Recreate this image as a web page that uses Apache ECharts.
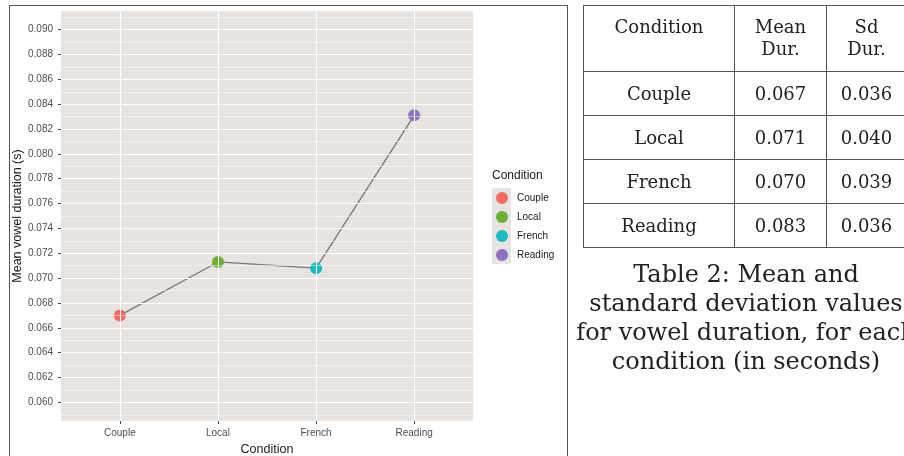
<!DOCTYPE html>
<html>
<head>
<meta charset="utf-8">
<script src="https://cdn.jsdelivr.net/npm/echarts@6/dist/echarts.min.js"></script>
<style>
  html, body { margin: 0; padding: 0; background: #fff; width: 904px; height: 456px; overflow: hidden; }
  #frame { position: absolute; left: 9px; top: 5px; width: 559px; height: 470px; border: 1.5px solid #555; box-sizing: border-box; }
  #chart { position: absolute; left: 0; top: 0; width: 904px; height: 456px; }
  #tbl { position: absolute; left: 583px; top: 5px; width: 323px; border-collapse: collapse; table-layout: fixed; font-family: "DejaVu Serif", serif; color: #222; font-size: 18px; }
  #tbl td { border: 1px solid #555; text-align: center; padding: 0; line-height: 22px; }
  #caption { position: absolute; left: 544px; top: 260px; width: 404px; text-align: center; font-family: "DejaVu Serif", serif; font-size: 24px; line-height: 29px; color: #222; white-space: nowrap; }
</style>
</head>
<body>
<div id="frame"></div>
<div id="chart"></div>
<table id="tbl"><colgroup><col style="width:151px"><col style="width:92px"><col style="width:80px"></colgroup><tbody id="tb"></tbody></table>
<div id="caption">Table 2: Mean and<br>standard deviation values<br>for vowel duration, for each<br>condition (in seconds)</div>
<script>
// ---- data ----
var categories = ['Couple', 'Local', 'French', 'Reading'];
var meanDuration = [0.0670, 0.0713, 0.0708, 0.0831];
var pointColors = ['#F06A63', '#6BAF35', '#1CBBBF', '#8D72C0'];
var yMajorTicks = [0.060, 0.062, 0.064, 0.066, 0.068, 0.070, 0.072, 0.074, 0.076, 0.078, 0.080, 0.082, 0.084, 0.086, 0.088, 0.090];
var yMinorTicks = [0.059, 0.061, 0.063, 0.065, 0.067, 0.069, 0.071, 0.073, 0.075, 0.077, 0.079, 0.081, 0.083, 0.085, 0.087, 0.089, 0.091];
var tableHeader = ['Condition', 'Mean<br>Dur.', 'Sd<br>Dur.'];
var tableMean = ['0.067', '0.071', '0.070', '0.083'];
var tableSd = ['0.036', '0.040', '0.039', '0.036'];

// ---- table ----
var tb = document.getElementById('tb');
var html = '<tr style="height:66px">';
tableHeader.forEach(function (h) { html += '<td style="vertical-align:top;padding-top:10px">' + h + '</td>'; });
html += '</tr>';
for (var r = 0; r < categories.length; r++) {
  html += '<tr style="height:44px"><td>' + categories[r] + '</td><td>' + tableMean[r] + '</td><td>' + tableSd[r] + '</td></tr>';
}
tb.innerHTML = html;

// ---- chart ----
var xPos = categories.map(function (c, i) { return i; });
var xMin = -0.6, xMax = 3.6, yMin = 0.0585, yMax = 0.0915;
var chart = echarts.init(document.getElementById('chart'), null, { renderer: 'canvas' });

var gridLines = [];
xPos.forEach(function (x) {
  gridLines.push([{ coord: [x, yMin], lineStyle: { color: '#ffffff', width: 1.1 } }, { coord: [x, yMax] }]);
});
yMajorTicks.forEach(function (y) {
  gridLines.push([{ coord: [xMin, y], lineStyle: { color: '#ffffff', width: 1.1 } }, { coord: [xMax, y] }]);
});
yMinorTicks.forEach(function (y) {
  gridLines.push([{ coord: [xMin, y], lineStyle: { color: '#ffffff', width: 0.6, opacity: 0.85 } }, { coord: [xMax, y] }]);
});

var series = [{
  type: 'line',
  data: [],
  silent: true,
  z: 1,
  markLine: {
    silent: true,
    precision: 6,
    symbol: ['none', 'none'],
    label: { show: false },
    animation: false,
    lineStyle: { type: 'solid' },
    data: gridLines
  }
}, {
  type: 'line',
  name: 'path',
  data: xPos.map(function (x, i) { return [x, meanDuration[i]]; }),
  showSymbol: false,
  lineStyle: { color: '#777777', width: 1.3 },
  itemStyle: { color: '#777777' },
  z: 2
}];
categories.forEach(function (c, i) {
  series.push({
    type: 'scatter',
    name: c,
    data: [[xPos[i], meanDuration[i]]],
    symbolSize: 12,
    itemStyle: { color: pointColors[i], opacity: 1 },
    z: 3
  });
});

chart.setOption({
  animation: false,
  textStyle: { fontFamily: 'Liberation Sans, Arial, sans-serif' },
  grid: {
    show: true, left: 61, top: 11, right: 431, bottom: 35,
    outerBoundsMode: 'none', containLabel: false,
    backgroundColor: '#E6E3E0', borderWidth: 0
  },
  title: {
    text: 'Condition', left: 492, top: 170, padding: 0,
    textStyle: { fontSize: 12, fontWeight: 'normal', color: '#1a1a1a' }
  },
  legend: {
    orient: 'vertical', left: 496, top: 192,
    padding: 0,
    itemWidth: 12, itemHeight: 12, itemGap: 7,
    icon: 'circle',
    data: categories,
    textStyle: { fontSize: 10, color: '#1a1a1a', padding: [0, 0, 0, 4] }
  },
  graphic: [{
    type: 'rect', left: 492, top: 188, z: -1,
    shape: { width: 19, height: 76 },
    style: { fill: '#E6E3E0' }
  }],
  xAxis: {
    type: 'value', min: xMin, max: xMax,
    axisLine: { show: false, onZero: false },
    axisTick: { show: true, length: 3, customValues: xPos, lineStyle: { color: '#444' } },
    axisLabel: {
      customValues: xPos, fontSize: 10, color: '#4d4d4d', margin: 7,
      formatter: function (v) { return categories[Math.round(v)]; }
    },
    splitLine: { show: false },
    name: 'Condition', nameLocation: 'middle', nameGap: 18,
    nameTextStyle: { fontSize: 12.5, color: '#1a1a1a' }
  },
  yAxis: {
    type: 'value', min: yMin, max: yMax,
    axisLine: { show: false, onZero: false },
    axisTick: { show: true, length: 3, customValues: yMajorTicks, lineStyle: { color: '#444' } },
    axisLabel: {
      customValues: yMajorTicks, fontSize: 10, color: '#4d4d4d', margin: 8,
      formatter: function (v) { return v.toFixed(3); }
    },
    splitLine: { show: false },
    name: 'Mean vowel duration (s)', nameLocation: 'middle', nameGap: 34, nameRotate: 90,
    nameTextStyle: { fontSize: 12.5, color: '#1a1a1a' }
  },
  series: series
});
</script>
</body>
</html>
